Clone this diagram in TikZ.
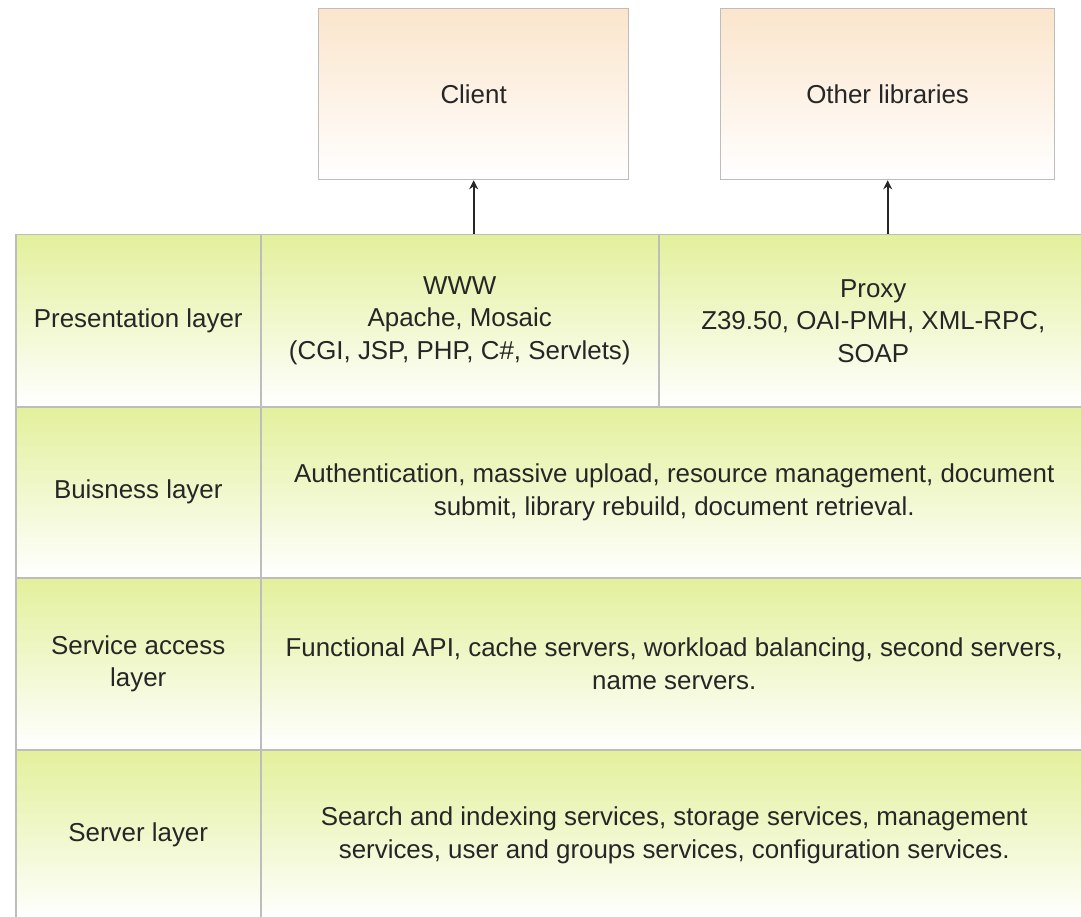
\documentclass[tikz,border=0pt]{standalone}
\usepackage{fontspec}
\setmainfont{Liberation Sans}
\usetikzlibrary{arrows.meta}
\definecolor{lgreen}{HTML}{E3F09B}
\definecolor{lorange}{HTML}{FBE5CC}
\definecolor{bordergray}{HTML}{BDBDBD}
\begin{document}
\begin{tikzpicture}[x=1pt,y=-1pt,
  font=\fontsize{25.9}{32.5}\selectfont,
  cell/.style={rectangle, draw=bordergray, line width=1.5pt, top color=lgreen, bottom color=white,
    anchor=north west, inner sep=0pt, align=center, text=black!85},
  topbox/.style={rectangle, draw=bordergray, line width=1.3pt, top color=lorange, bottom color=white,
    anchor=north west, inner sep=0pt, align=center, text=black!85},
  link/.style={-{Stealth[length=9pt,width=9pt]}, line width=2pt, draw=black!85}]
\useasboundingbox (0,0) rectangle (1081,917);

% top boxes
\node[topbox, minimum width=310pt, minimum height=171pt] (client) at (318,8) {Client};
\node[topbox, minimum width=334pt, minimum height=171pt] (other) at (720,8) {Other libraries};

% row 1
\node[cell, minimum width=245pt, minimum height=172pt] (pl) at (15,234) {Presentation layer};
\node[cell, minimum width=398pt, minimum height=172pt] (www) at (260,234) {WWW\\Apache, Mosaic\\(CGI, JSP, PHP, C\#, Servlets)};
\node[cell, minimum width=429pt, minimum height=172pt] (proxy) at (658,234) {Proxy\\Z39.50, OAI-PMH, XML-RPC,\\SOAP};

% row 2
\node[cell, minimum width=245pt, minimum height=171pt] (bl) at (15,406) {Buisness layer};
\node[cell, minimum width=827pt, minimum height=171pt] (bc) at (260,406) {Authentication, massive upload, resource management, document\\submit, library rebuild, document retrieval.};

% row 3
\node[cell, minimum width=245pt, minimum height=172pt] (sal) at (15,577) {Service access\\layer};
\node[cell, minimum width=827pt, minimum height=172pt] (sac) at (260,577) {Functional API, cache servers, workload balancing, second servers,\\name servers.};

% row 4
\node[cell, minimum width=245pt, minimum height=171pt] (sl) at (15,749) {Server layer};
\node[cell, minimum width=827pt, minimum height=171pt] (sc) at (260,749) {Search and indexing services, storage services, management\\services, user and groups services, configuration services.};

% connectors
\draw[link] (client.south |- www.north) -- (client.south);
\draw[link] (other.south |- proxy.north) -- (other.south);
\end{tikzpicture}
\end{document}
